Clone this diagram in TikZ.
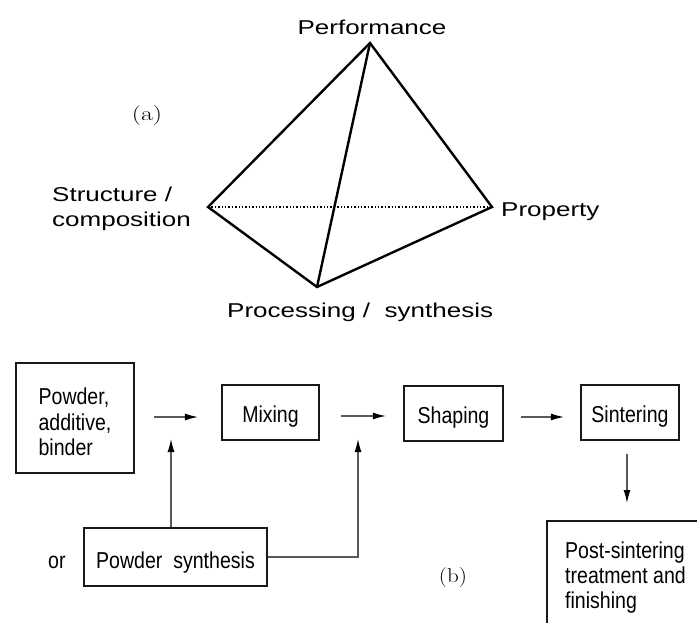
\documentclass[tikz,border=0pt]{standalone}
\usepackage{fontspec}
\newfontfamily\topfont[FakeStretch=1.3]{Liberation Sans}
\newfontfamily\botfont[FakeStretch=0.85]{Liberation Sans}
\usetikzlibrary{arrows.meta}
\tikzset{
  edge/.style={line width=2.4pt, black, line join=miter},
  hidden/.style={line width=1.4pt, black, dotted},
  toplabel/.style={font=\topfont\fontsize{20}{25}\selectfont, inner sep=0pt, align=left},
  stepbox/.style={draw=black!90, line width=2.2pt, font=\botfont\fontsize{23}{25.5}\selectfont, inner sep=0pt, align=left},
  oneline/.style={text height=20pt, text depth=1pt},
  botlabel/.style={font=\botfont\fontsize{23}{25}\selectfont, inner sep=0pt, align=left},
  flow/.style={line width=1.2pt, black!65, -{Latex[length=13pt,width=7pt,black]}},
  tag/.style={inner sep=0pt, font=\fontsize{20}{24}\selectfont}
}
\begin{document}
\begin{tikzpicture}[x=1pt,y=-1pt]
\useasboundingbox (0,0) rectangle (697,623);
% ---- (a) tetrahedron ----
\coordinate (T) at (370,43);
\coordinate (L) at (208,207);
\coordinate (R) at (492,207);
\coordinate (B) at (317,287);
\draw[hidden] (L) -- (R);
\draw[edge] (T) -- (L) -- (B) -- (R) -- cycle;
\draw[edge] (T) -- (B);
\node[toplabel, anchor=base] (perf) at (372,35) {Performance};
\node[toplabel, anchor=base west] (struc) at (52,227) {Structure /\\composition};
\node[toplabel, anchor=base west] (prop) at (501,217) {Property};
\node[toplabel, anchor=base west] (proc) at (227,317) {Processing /\ \ synthesis};
\node[tag] (taga) at (147,116) {\scalebox{1.3}[1]{(a)}};
% ---- (b) flow chart ----
\node[stepbox, minimum width=118pt, minimum height=110pt] (pw) at (75,418) {\rule{0pt}{25pt}Powder,\\additive,\\binder};
\node[stepbox, oneline, minimum width=97pt, minimum height=55pt] (mix) at (270.5,412.5) {Mixing};
\node[stepbox, oneline, minimum width=99pt, minimum height=55pt] (shp) at (453.5,413.5) {Shaping};
\node[stepbox, oneline, minimum width=98pt, minimum height=55pt] (sin) at (630,412.5) {Sintering};
\node[stepbox, text height=23pt, text depth=1pt, minimum width=183pt, minimum height=58pt] (syn) at (175.5,557) {Powder\ \ synthesis};
\node[botlabel, anchor=base west] (or) at (48,568) {or};
\node[botlabel, anchor=north west] (post) at (565,542) {Post-sintering\\treatment and\\finishing};
\draw[line width=2.2pt, black!90] (697,521) -- (547,521) -- (547,623);
\node[tag] (tagb) at (453,578) {\scalebox{1.15}[1]{(b)}};
\coordinate (posttop) at (627,521);
\coordinate (j1) at (171,439);
\coordinate (j2) at (358,439);
\draw[flow, shorten <=19pt, shorten >=23pt] (pw.east |- 0,417) -- (mix.west |- 0,417);
\draw[flow, shorten <=21pt, shorten >=17pt] (mix.east |- 0,416) -- (shp.west |- 0,416);
\draw[flow, shorten <=17pt, shorten >=16pt] (shp.east |- 0,417) -- (sin.west |- 0,417);
\draw[flow, shorten <=13pt, shorten >=18pt] (sin.south -| posttop) -- (posttop);
\draw[flow] (syn.north -| j1) -- (j1);
\draw[flow] (syn.east) -| (j2);
\end{tikzpicture}
\end{document}
